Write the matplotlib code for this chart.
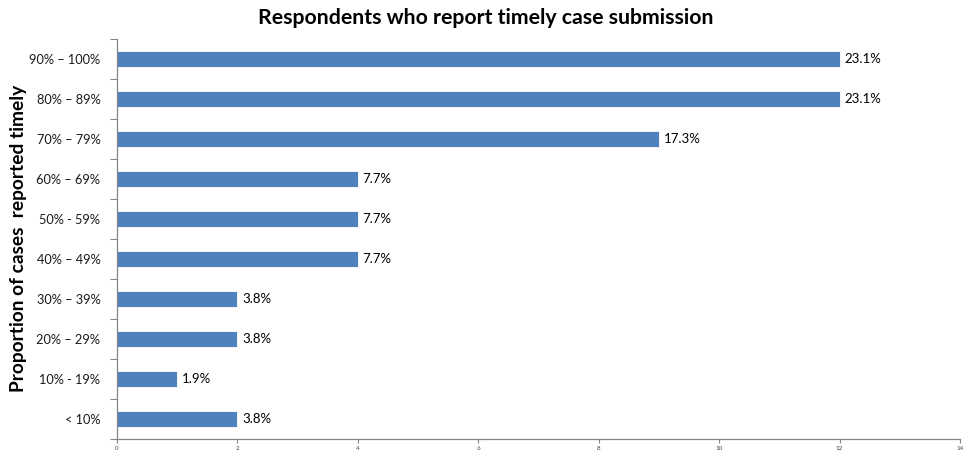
import matplotlib
matplotlib.use('Agg')
import matplotlib.pyplot as plt
import numpy as np

plt.rcParams['font.family'] = ['Lato', 'DejaVu Sans']

# categories listed bottom to top
categories = ['< 10%', '10% - 19%', '20% \u2013 29%', '30% \u2013 39%', '40% \u2013 49%',
              '50% - 59%', '60% \u2013 69%', '70% \u2013 79%', '80% \u2013 89%', '90% \u2013 100%']
counts = [2, 1, 2, 2, 4, 4, 4, 9, 12, 12]
percent_labels = ['3.8%', '1.9%', '3.8%', '3.8%', '7.7%', '7.7%', '7.7%', '17.3%', '23.1%', '23.1%']
x_ticks = [0, 2, 4, 6, 8, 10, 12, 14]

bar_color = '#4F81BD'
axis_color = '#868686'

fig = plt.figure(figsize=(9.65, 4.55), dpi=100)
ax = fig.add_axes([0.1212, 0.0352, 0.8736, 0.8791])

y = np.arange(len(categories))
ax.barh(y, counts, height=0.4, color=bar_color, edgecolor='white', linewidth=0.6)

for yi, val, lab in zip(y, counts, percent_labels):
    ax.text(val + 0.08, yi, lab, va='center', ha='left', fontsize=9.5, color='black')

ax.set_xlim(0, 14)
ax.set_ylim(-0.5, len(categories) - 0.5)
ax.set_xticks(x_ticks)
ax.set_xticklabels([str(t) for t in x_ticks], fontsize=4.5, color='#404040')
ax.tick_params(axis='x', length=3, width=0.8, color=axis_color, pad=2)

# category labels centred on bars, tick marks between categories
ax.set_yticks(y)
ax.set_yticklabels(categories, fontsize=9.2, color='#1a1a1a')
ax.tick_params(axis='y', length=0, pad=12)
ax.set_yticks(np.arange(-0.5, len(categories), 1.0), minor=True)
ax.tick_params(axis='y', which='minor', length=5, width=0.8, color=axis_color)

for side in ['top', 'right']:
    ax.spines[side].set_visible(False)
for side in ['left', 'bottom']:
    ax.spines[side].set_color(axis_color)
    ax.spines[side].set_linewidth(0.9)

fig.text(0.503, 0.96, 'Respondents who report timely case submission',
         ha='center', va='center', fontsize=15.3, fontweight='bold')
fig.text(0.019, 0.475, 'Proportion of cases  reported timely', rotation=90,
         ha='center', va='center', fontsize=13.8, fontweight='bold')

fig.savefig('out.png', dpi=100, facecolor='white')
